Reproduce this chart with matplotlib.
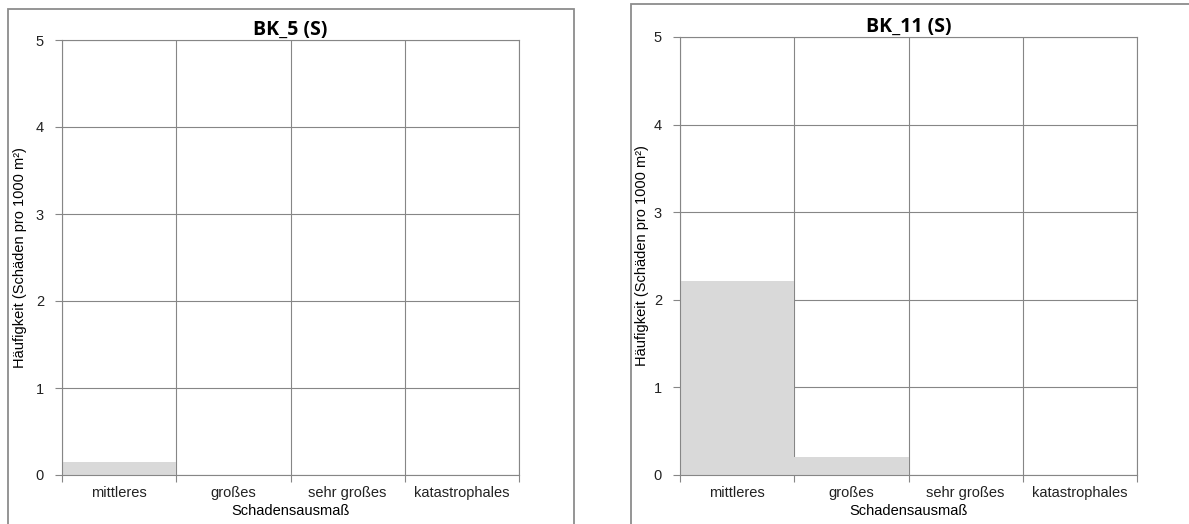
import matplotlib.pyplot as plt
from matplotlib.patches import Rectangle

categories = ["mittleres", "großes", "sehr großes", "katastrophales"]
titles = ["BK_5 (S)", "BK_11 (S)"]
values_bk5 = [0.15, 0, 0, 0]
values_bk11 = [2.22, 0.2, 0, 0]
y_ticks = [0, 1, 2, 3, 4, 5]

W, H = 1189, 524
fig = plt.figure(figsize=(W / 100, H / 100), dpi=100)

grid_col = "#868686"
bar_col = "#d9d9d9"
tick_font = "Liberation Sans"


def px(x0, y0, x1, y1):
    # pixel box (top-left origin) -> figure fraction
    return [x0 / W, 1 - y1 / H, (x1 - x0) / W, (y1 - y0) / H]


def panel(box, plot, title, vals, ylab_x):
    # outer chart frame
    fig.patches.append(Rectangle((box[0] / W, 1 - box[3] / H), (box[2] - box[0]) / W,
                                 (box[3] - box[1]) / H, transform=fig.transFigure,
                                 fill=False, edgecolor="#8c8c8c", linewidth=1.3, clip_on=False))
    ax = fig.add_axes(px(*plot))
    n = len(categories)
    ax.bar(range(n), vals, width=1.0, color=bar_col, zorder=2)
    ax.set_xlim(-0.5, n - 0.5)
    ax.set_ylim(0, 5)
    ax.set_yticks(y_ticks)
    ax.set_xticks([i + 0.5 for i in range(-1, n)], minor=False)
    ax.set_xticklabels([])
    ax.set_xticks(range(n), minor=True)
    ax.set_xticklabels(categories, minor=True, fontsize=10.5, family=tick_font, color="#222")
    ax.tick_params(axis="x", which="minor", length=0, pad=8)
    ax.tick_params(axis="x", which="major", length=5, color=grid_col)
    ax.tick_params(axis="y", length=5, color=grid_col, labelsize=10.5, pad=8, labelcolor="#222")
    for lab in ax.get_yticklabels():
        lab.set_family(tick_font)
    ax.grid(True, which="major", color=grid_col, linewidth=0.8, zorder=0)
    ax.set_axisbelow(True)
    for s in ax.spines.values():
        s.set_color(grid_col)
        s.set_linewidth(0.8)
    ax.set_title(title, fontsize=14, fontweight="bold", family="Open Sans", pad=1)
    ax.set_xlabel("Schadensausmaß", fontsize=10.5, family="Liberation Sans", labelpad=3)
    ax.set_ylabel("Häufigkeit (Schäden pro 1000 m²)", fontsize=10.5,
                  family="Liberation Sans", va="center")
    ax.yaxis.set_label_coords((ylab_x - plot[0]) / (plot[2] - plot[0]), 0.5)
    return ax


panel((8, 9, 574, 530), (62, 40, 519, 475), titles[0], values_bk5, 20)
panel((631, 4, 1200, 530), (680, 37, 1137, 475), titles[1], values_bk11, 642)

fig.savefig("out.png", dpi=100, facecolor="white")
